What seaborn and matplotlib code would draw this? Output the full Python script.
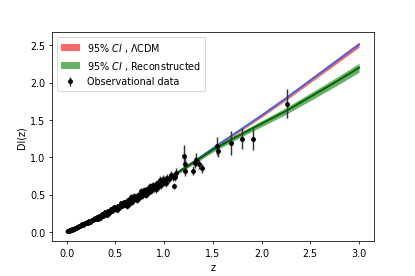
import numpy as np
import matplotlib
matplotlib.use("Agg")
import matplotlib.pyplot as plt
import seaborn as sns

# model curves
z_model = [0.0, 0.25, 0.5, 0.75, 1.0, 1.25, 1.5, 1.75, 2.0, 2.25, 2.5, 2.75, 3.0]
dl_lcdm = [0.0, 0.15, 0.32, 0.49, 0.68, 0.89, 1.12, 1.34, 1.56, 1.79, 2.03, 2.27, 2.51]
err_lcdm = [0.0, 0.003, 0.006, 0.009, 0.012, 0.015, 0.018, 0.021, 0.024, 0.027, 0.030, 0.033, 0.036]
dl_rec = [0.0, 0.15, 0.32, 0.49, 0.68, 0.89, 1.10, 1.28, 1.45, 1.62, 1.81, 2.00, 2.20]
err_rec = [0.0, 0.005, 0.010, 0.015, 0.020, 0.025, 0.030, 0.035, 0.040, 0.045, 0.050, 0.055, 0.060]

# observational data: low-z supernova cloud
z_sn = [0.010, 0.012, 0.015, 0.017, 0.020, 0.023, 0.025, 0.028, 0.030, 0.033,
        0.036, 0.040, 0.045, 0.050, 0.055, 0.060, 0.066, 0.072, 0.080, 0.088,
        0.095, 0.10, 0.11, 0.12, 0.13, 0.14, 0.15, 0.16, 0.17, 0.18,
        0.19, 0.20, 0.21, 0.22, 0.23, 0.24, 0.25, 0.26, 0.27, 0.28,
        0.29, 0.30, 0.31, 0.32, 0.33, 0.34, 0.35, 0.36, 0.37, 0.38,
        0.39, 0.40, 0.41, 0.42, 0.43, 0.44, 0.45, 0.46, 0.47, 0.48,
        0.49, 0.50, 0.51, 0.52, 0.53, 0.54, 0.55, 0.56, 0.57, 0.58,
        0.59, 0.60, 0.61, 0.62, 0.63, 0.64, 0.65, 0.66, 0.67, 0.68,
        0.69, 0.70, 0.71, 0.72, 0.73, 0.74, 0.75, 0.76, 0.77, 0.78,
        0.79, 0.80, 0.81, 0.82, 0.83, 0.84, 0.85, 0.86, 0.87, 0.88,
        0.89, 0.90, 0.91, 0.92, 0.93, 0.94, 0.95, 0.96, 0.97, 0.98,
        0.99, 1.00, 1.01, 1.02, 1.03, 1.05, 1.07, 1.09, 1.12]
dl_sn = [0.006, 0.007, 0.009, 0.010, 0.012, 0.013, 0.015, 0.016, 0.018, 0.019,
         0.021, 0.024, 0.026, 0.030, 0.031, 0.036, 0.037, 0.043, 0.045, 0.053,
         0.054, 0.054, 0.066, 0.059, 0.082, 0.075, 0.088, 0.105, 0.094, 0.110,
         0.122, 0.115, 0.127, 0.120, 0.143, 0.136, 0.149, 0.166, 0.156, 0.172,
         0.184, 0.172, 0.193, 0.167, 0.215, 0.189, 0.213, 0.246, 0.211, 0.242,
         0.263, 0.237, 0.258, 0.232, 0.280, 0.254, 0.279, 0.312, 0.277, 0.308,
         0.330, 0.304, 0.325, 0.299, 0.348, 0.322, 0.347, 0.381, 0.346, 0.377,
         0.399, 0.367, 0.399, 0.351, 0.428, 0.380, 0.417, 0.469, 0.406, 0.454,
         0.486, 0.438, 0.470, 0.422, 0.500, 0.452, 0.489, 0.542, 0.479, 0.527,
         0.559, 0.511, 0.544, 0.496, 0.574, 0.526, 0.564, 0.617, 0.554, 0.602,
         0.634, 0.587, 0.620, 0.573, 0.650, 0.603, 0.641, 0.694, 0.631, 0.679,
         0.712, 0.665, 0.698, 0.651, 0.729, 0.705, 0.760, 0.735, 0.790]
err_sn = ([0.003] * 21 + [0.010] * 20 + [0.025] * 30 + [0.040] * 30
          + [0.050] * 14 + [0.05, 0.06, 0.05, 0.06])

# observational data: high-z points
z_hz = [1.10, 1.11, 1.20, 1.22, 1.22, 1.30, 1.32, 1.33, 1.36, 1.39,
        1.54, 1.55, 1.69, 1.80, 1.91, 2.26]
dl_hz = [0.62, 0.73, 1.02, 0.91, 0.82, 0.82, 0.93, 0.97, 0.91, 0.85,
         1.15, 1.09, 1.19, 1.25, 1.24, 1.72]
err_hz = [0.04, 0.05, 0.15, 0.10, 0.07, 0.06, 0.08, 0.09, 0.07, 0.06,
          0.12, 0.08, 0.16, 0.14, 0.14, 0.20]

z_model = np.array(z_model)
lcdm_lo = np.array(dl_lcdm) - np.array(err_lcdm)
lcdm_hi = np.array(dl_lcdm) + np.array(err_lcdm)
rec_lo = np.array(dl_rec) - np.array(err_rec)
rec_hi = np.array(dl_rec) + np.array(err_rec)

fig, ax = plt.subplots(figsize=(6, 4), dpi=69.2)
fig.subplots_adjust(left=0.125, right=0.9, bottom=0.125, top=0.88)

band1 = ax.fill_between(z_model, lcdm_lo, lcdm_hi, color="red", alpha=0.6, lw=0,
                        label="95% $CI$ , \u039bCDM")
sns.lineplot(x=z_model, y=dl_lcdm, color="royalblue", lw=2, ax=ax)
band2 = ax.fill_between(z_model, rec_lo, rec_hi, color="green", alpha=0.6, lw=0,
                        label="95% $CI$ , Reconstructed")
sns.lineplot(x=z_model, y=dl_rec, color="darkgreen", lw=2, ax=ax)

z_obs = z_sn + z_hz
dl_obs = dl_sn + dl_hz
err_obs = err_sn + err_hz
obs = ax.errorbar(z_obs, dl_obs, yerr=err_obs, fmt=".", color="k", ecolor="0.2",
                  elinewidth=1.5, markersize=8, label="Observational data")

ax.set_xlabel("z")
ax.set_ylabel("Dl(z)")
ax.set_xticks([0.0, 0.5, 1.0, 1.5, 2.0, 2.5, 3.0])
ax.legend(handles=[band1, band2, obs], loc="upper left")

fig.savefig("out.png", dpi=69.2)
